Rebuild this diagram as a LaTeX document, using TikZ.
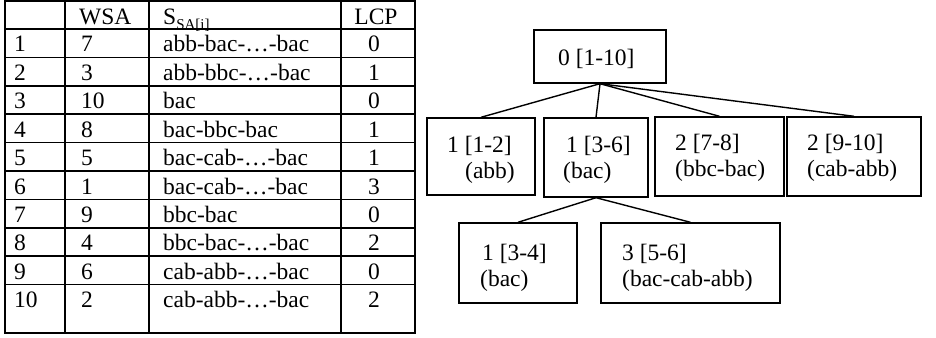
\documentclass[tikz,border=0pt]{standalone}
\usepackage{fontspec}
\setmainfont{Liberation Serif}
\begin{document}
\begin{tikzpicture}[x=1pt,y=-1pt,
  every node/.style={font=\fontsize{23.5}{26}\selectfont, inner sep=0pt},
  rule/.style={line width=1.5pt},
  cell/.style={anchor=base west},
  numcell/.style={anchor=base},
  tbox/.style={draw, rectangle, line width=1.4pt},
  tlab/.style={anchor=base west},
  edge/.style={line width=1.4pt}]
\useasboundingbox (0,0) rectangle (936,337);

% ---- table ----
\foreach \yy in {1,29,57.4,85.8,114.2,142.6,171,199.4,227.8,256.2,284.6,333}
  \draw[rule] (4.25,\yy) -- (415.75,\yy);
\foreach \xx in {5,65,149,341,415}
  \draw[rule] (\xx,1) -- (\xx,333);

\node[cell] (hwsa) at (79,25) {WSA};
\node[cell] (hs) at (163,25) {S\raisebox{-5pt}{\fontsize{15}{15}\selectfont SA[i]}};
\node[numcell] (hlcp) at (376,25) {LCP};

\foreach \i/\w/\s/\l [count=\k from 0] in {
  1/7/abb-bac-…-bac/0,
  2/3/abb-bbc-…-bac/1,
  3/10/bac/0,
  4/8/bac-bbc-bac/1,
  5/5/bac-cab-…-bac/1,
  6/1/bac-cab-…-bac/3,
  7/9/bbc-bac/0,
  8/4/bbc-bac-…-bac/2,
  9/6/cab-abb-…-bac/0,
  10/2/cab-abb-…-bac/2} {
  \pgfmathsetmacro{\yb}{52+28.4*\k}
  \node[cell] (ri\i) at (14,\yb) {\i};
  \node[cell] (rw\i) at (81,\yb) {\w};
  \node[cell] (rs\i) at (163,\yb) {\s};
  \node[numcell] (rl\i) at (374,\yb) {\l};
}

% ---- tree ----
\node[tbox, minimum width=132pt, minimum height=53pt] (root) at (600,56.5) {};
\node[tbox, minimum width=108pt, minimum height=77pt] (b1) at (481,156.5) {};
\node[tbox, minimum width=104pt, minimum height=79pt] (b2) at (596,157.5) {};
\node[tbox, minimum width=129pt, minimum height=79pt] (b3) at (719.5,156.5) {};
\node[tbox, minimum width=134pt, minimum height=79pt] (b4) at (854,156.5) {};
\node[tbox, minimum width=118pt, minimum height=80pt] (g1) at (518,263) {};
\node[tbox, minimum width=179pt, minimum height=80pt] (g2) at (690.5,263) {};

\node[tlab] (roott) at (558,65) {0 [1-10]};
\node[tlab] (b1a) at (447,152) {1 [1-2]};
\node[tlab] (b1b) at (465,178) {(abb)};
\node[tlab] (b2a) at (566,152) {1 [3-6]};
\node[tlab] (b2b) at (563,178) {(bac)};
\node[tlab] (b3a) at (675,150) {2 [7-8]};
\node[tlab] (b3b) at (675,176) {(bbc-bac)};
\node[tlab] (b4a) at (807,150) {2 [9-10]};
\node[tlab] (b4b) at (807,176) {(cab-abb)};
\node[tlab] (g1a) at (482,260) {1 [3-4]};
\node[tlab] (g1b) at (480,286) {(bac)};
\node[tlab] (g2a) at (622,260) {3 [5-6]};
\node[tlab] (g2b) at (622,286) {(bac-cab-abb)};

\draw[edge] (root.south) -- (b1.north);
\draw[edge] (root.south) -- (b2.north);
\draw[edge] (root.south) -- (b3.north);
\draw[edge] (root.south) -- (b4.north);
\draw[edge] (b2.south) -- (g1.north);
\draw[edge] (b2.south) -- (g2.north);
\end{tikzpicture}
\end{document}
